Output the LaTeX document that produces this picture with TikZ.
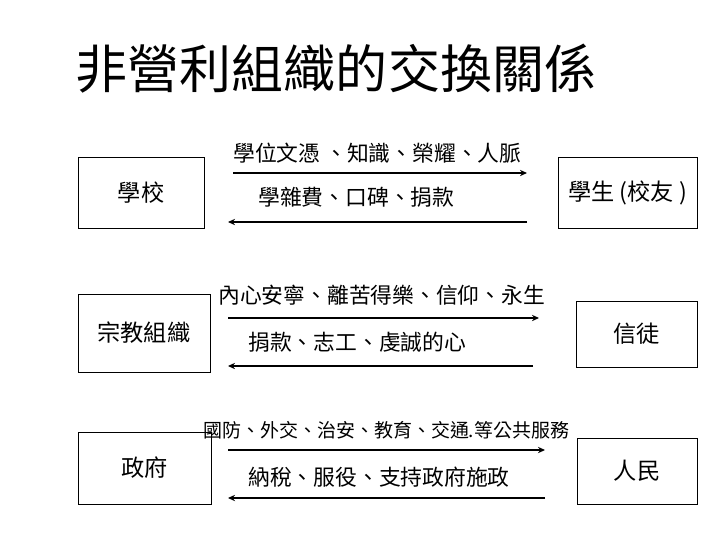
\documentclass[tikz,border=0pt]{standalone}
\usepackage{fontspec}
\setmainfont{Noto Sans CJK TC}
\usetikzlibrary{arrows.meta}

\begin{document}
\begin{tikzpicture}[x=0.25mm, y=-0.25mm, >={Stealth[length=5pt,width=4.5pt]},
  party/.style={draw, line width=0.7pt, inner sep=0pt, font=\fontsize{16.5}{18}\selectfont},
  flow/.style={->, line width=1.4pt},
  gift/.style={anchor=west, inner sep=0pt, font=\fontsize{15.5}{18}\selectfont}]
\useasboundingbox (0,0) rectangle (720,540);
% title
\node[inner sep=0pt, font=\fontsize{37}{40}\selectfont] (title) at (336,69) {非營利組織的交換關係};
% school
\node[party, minimum width=31.5mm, minimum height=17.75mm] (school) at (141,192.5) {學校};
\node[party, minimum width=34.75mm, minimum height=17.75mm] (student) at (627.5,192.5) {學生 (校友 )};
\node[gift] (give1) at (233,153) {學位文憑 、知識、榮耀、人脈};
\node[gift] (back1) at (258,197) {學雜費、口碑、捐款};
\coordinate (a1s) at (233,173);
\coordinate (a1e) at (527,173);
\coordinate (b1s) at (527,222);
\coordinate (b1e) at (228,222);
\draw[flow] (a1s) -- (a1e);
\draw[flow] (b1s) -- (b1e);
% religion
\node[party, minimum width=33mm, minimum height=19.5mm] (religion) at (144,333) {宗教組織};
\node[party, minimum width=30.25mm, minimum height=16.5mm] (believer) at (636.5,334) {信徒};
\node[gift] (give2) at (218,295) {內心安寧、離苦得樂、信仰、永生};
\node[gift] (back2) at (248,342) {捐款、志工、虔誠的心};
\coordinate (a2s) at (228,318);
\coordinate (a2e) at (539,318);
\coordinate (b2s) at (533,366);
\coordinate (b2e) at (228,366);
\draw[flow] (a2s) -- (a2e);
\draw[flow] (b2s) -- (b2e);
% government
\node[party, minimum width=33.25mm, minimum height=18mm] (gov) at (144.5,468) {政府};
\node[party, minimum width=30mm, minimum height=16.5mm] (people) at (637,471) {人民};
\node[gift, font=\fontsize{13.5}{16}\selectfont] (give3) at (203,430) {國防、外交、治安、教育、交通.等公共服務};
\node[gift] (back3) at (248,477) {納稅、服役、支持政府施政};
\coordinate (a3s) at (228,450);
\coordinate (a3e) at (545,450);
\coordinate (b3s) at (545,498);
\coordinate (b3e) at (228,498);
\draw[flow] (a3s) -- (a3e);
\draw[flow] (b3s) -- (b3e);
\end{tikzpicture}
\end{document}
